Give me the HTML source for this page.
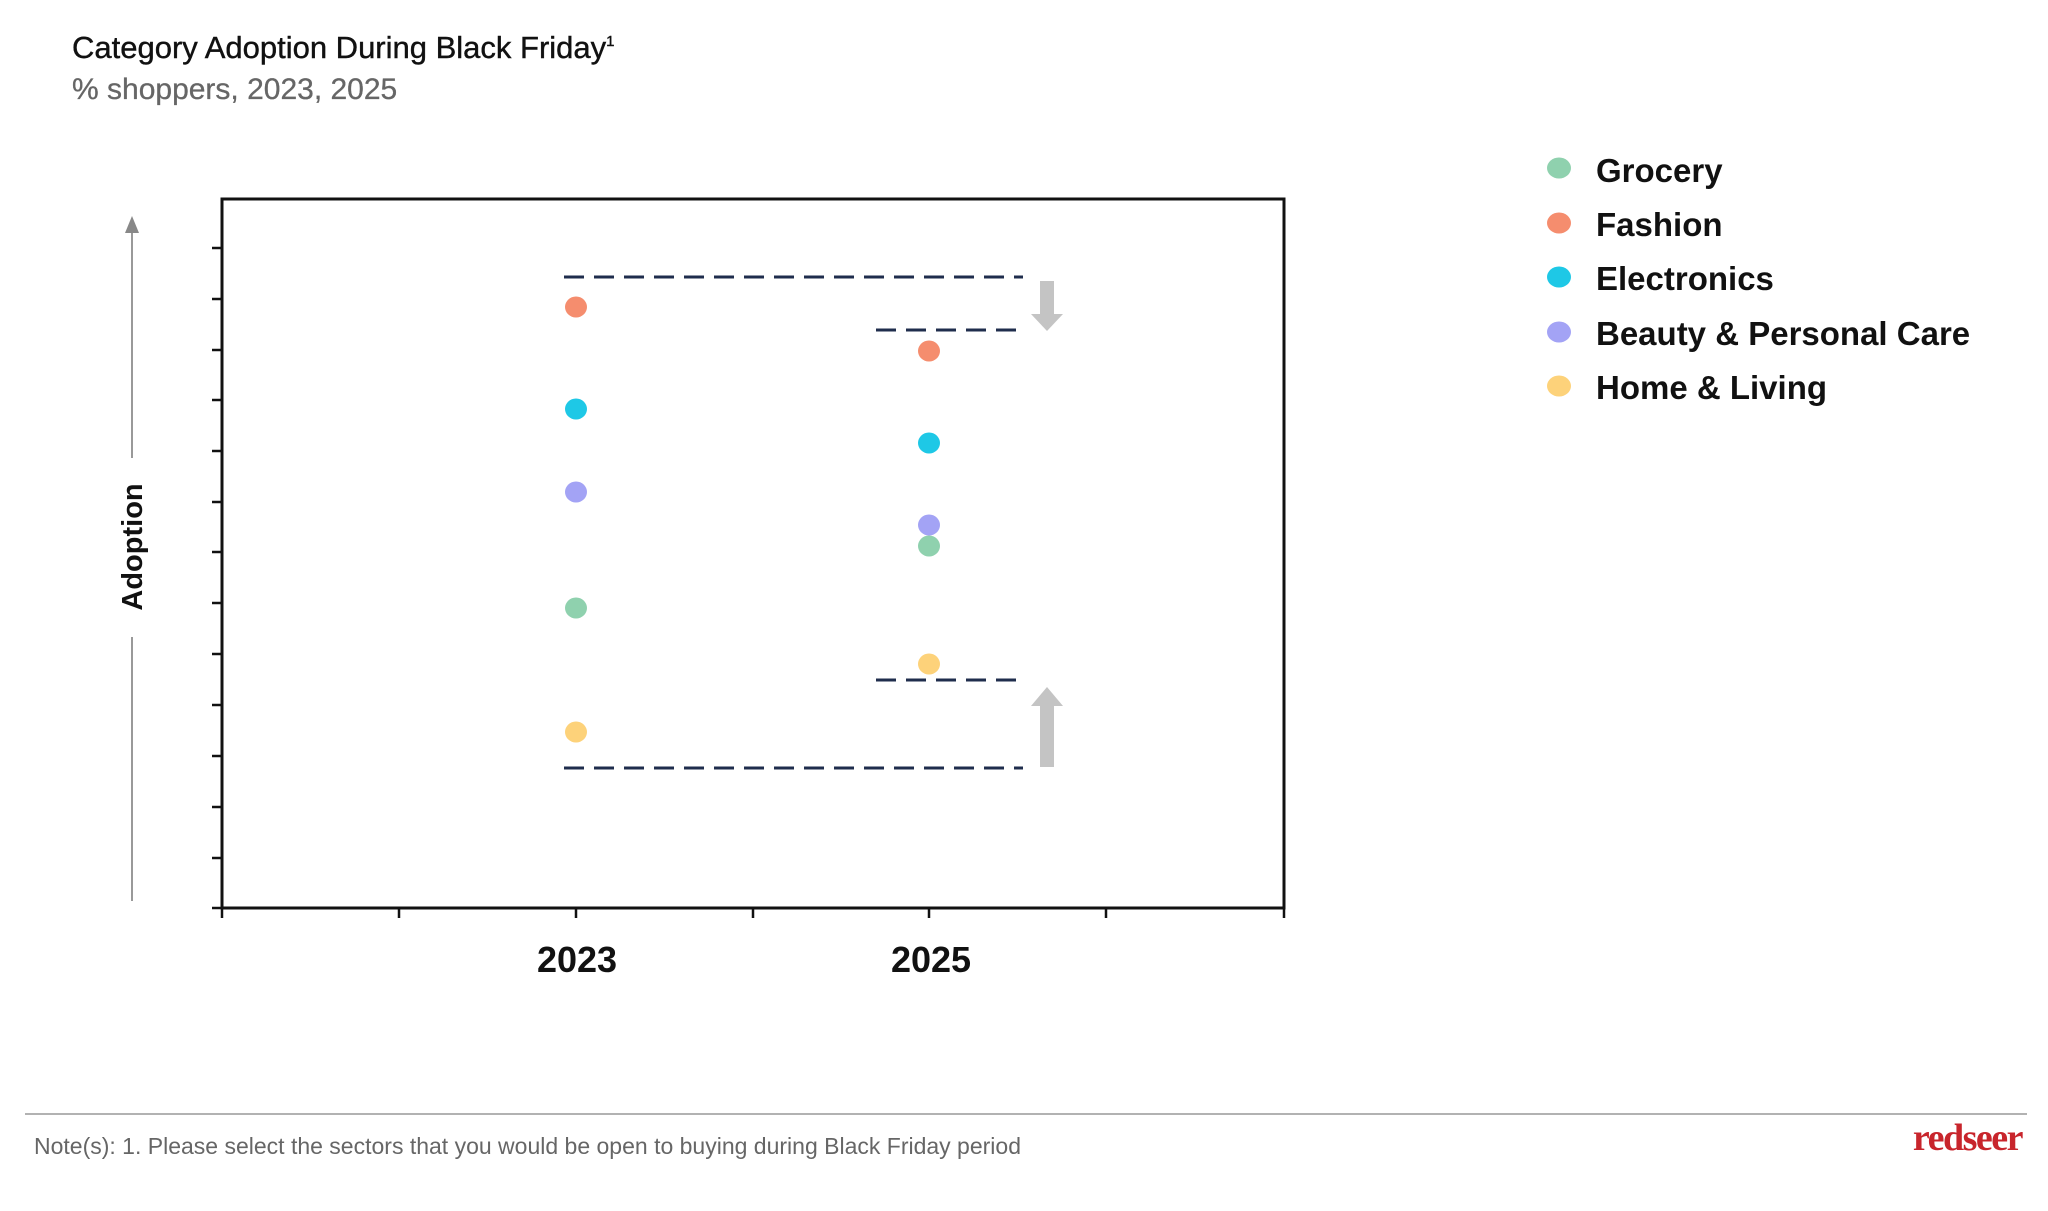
<!DOCTYPE html>
<html><head><meta charset="utf-8"><style>
html,body{margin:0;padding:0;background:#fff;}
body{width:2048px;height:1211px;overflow:hidden;position:relative;font-family:"Liberation Sans",sans-serif;}
</style></head><body>
<svg width="2048" height="1211" viewBox="0 0 2048 1211" xmlns="http://www.w3.org/2000/svg" style="position:absolute;left:0;top:0">
<text x="72" y="58" font-size="31" fill="#111" font-family="Liberation Sans, sans-serif" stroke="#111" stroke-width="0.4">Category Adoption During Black Friday<tspan font-size="15" dy="-12">1</tspan></text>
<text x="72" y="99" font-size="30" fill="#666" font-family="Liberation Sans, sans-serif" stroke="#666" stroke-width="0.3">% shoppers, 2023, 2025</text>

<!-- plot box -->
<rect x="222" y="199" width="1062" height="709" fill="none" stroke="#111" stroke-width="3"/>
<g stroke="#111" stroke-width="2.5">
<line x1="212" y1="248" x2="222" y2="248"/><line x1="212" y1="299" x2="222" y2="299"/>
<line x1="212" y1="350" x2="222" y2="350"/><line x1="212" y1="400" x2="222" y2="400"/>
<line x1="212" y1="451" x2="222" y2="451"/><line x1="212" y1="502" x2="222" y2="502"/>
<line x1="212" y1="552" x2="222" y2="552"/><line x1="212" y1="603" x2="222" y2="603"/>
<line x1="212" y1="654" x2="222" y2="654"/><line x1="212" y1="705" x2="222" y2="705"/>
<line x1="212" y1="756" x2="222" y2="756"/><line x1="212" y1="807" x2="222" y2="807"/>
<line x1="212" y1="858" x2="222" y2="858"/><line x1="212" y1="908" x2="222" y2="908"/>
<line x1="222" y1="908" x2="222" y2="918"/><line x1="399" y1="908" x2="399" y2="918"/>
<line x1="576" y1="908" x2="576" y2="918"/><line x1="753" y1="908" x2="753" y2="918"/>
<line x1="929" y1="908" x2="929" y2="918"/><line x1="1106" y1="908" x2="1106" y2="918"/>
<line x1="1284" y1="908" x2="1284" y2="918"/>
</g>
<text x="577" y="972" font-size="36" font-weight="bold" text-anchor="middle" fill="#111">2023</text>
<text x="931" y="972" font-size="36" font-weight="bold" text-anchor="middle" fill="#111">2025</text>

<!-- y axis arrow -->
<line x1="132" y1="901" x2="132" y2="637" stroke="#999" stroke-width="2"/>
<line x1="132" y1="458" x2="132" y2="228" stroke="#999" stroke-width="2"/>
<polygon points="132,216 125,233 139,233" fill="#888"/>
<text transform="translate(142,547) rotate(-90)" font-size="29" font-weight="bold" text-anchor="middle" fill="#111">Adoption</text>

<!-- dashed lines -->
<g stroke="#1f2d4d" stroke-width="3" stroke-dasharray="20,10">
<line x1="564" y1="277" x2="1023" y2="277"/>
<line x1="876" y1="330" x2="1023" y2="330"/>
<line x1="876" y1="680" x2="1023" y2="680"/>
<line x1="564" y1="768" x2="1023" y2="768"/>
</g>
<!-- gray arrows -->
<rect x="1040" y="281" width="14" height="35" fill="#c4c4c4"/>
<polygon points="1031,314 1063,314 1047,331" fill="#c4c4c4"/>
<rect x="1040" y="704" width="14" height="63" fill="#c4c4c4"/>
<polygon points="1031,706 1063,706 1047,687" fill="#c4c4c4"/>

<!-- dots -->
<g>
<ellipse cx="576" cy="307" rx="11" ry="10.5" fill="#f58d6e"/>
<ellipse cx="576" cy="409" rx="11" ry="10.5" fill="#1ec8e6"/>
<ellipse cx="576" cy="492" rx="11" ry="10.5" fill="#a3a3f5"/>
<ellipse cx="576" cy="608" rx="11" ry="10.5" fill="#8fd1ae"/>
<ellipse cx="576" cy="732" rx="11" ry="10.5" fill="#fdd27a"/>
<ellipse cx="929" cy="351" rx="11" ry="10.5" fill="#f58d6e"/>
<ellipse cx="929" cy="443" rx="11" ry="10.5" fill="#1ec8e6"/>
<ellipse cx="929" cy="546" rx="11" ry="10.5" fill="#8fd1ae"/>
<ellipse cx="929" cy="525" rx="11" ry="10.5" fill="#a3a3f5"/>
<ellipse cx="929" cy="664" rx="11" ry="10.5" fill="#fdd27a"/>
</g>

<!-- legend -->
<g font-size="33" font-weight="bold" fill="#111">
<ellipse cx="1559" cy="168" rx="12" ry="10.5" fill="#8fd1ae"/><text x="1596" y="182">Grocery</text>
<ellipse cx="1559" cy="223" rx="12" ry="10.5" fill="#f58d6e"/><text x="1596" y="236">Fashion</text>
<ellipse cx="1559" cy="277" rx="12" ry="10.5" fill="#1ec8e6"/><text x="1596" y="290">Electronics</text>
<ellipse cx="1559" cy="332" rx="12" ry="10.5" fill="#a3a3f5"/><text x="1596" y="345">Beauty &amp; Personal Care</text>
<ellipse cx="1559" cy="386" rx="12" ry="10.5" fill="#fdd27a"/><text x="1596" y="399">Home &amp; Living</text>
</g>

<!-- footer -->
<line x1="25" y1="1114" x2="2027" y2="1114" stroke="#999" stroke-width="1.5"/>
<text x="34" y="1154" font-size="23" fill="#666">Note(s): 1. Please select the sectors that you would be open to buying during Black Friday period</text>
<text x="2022" y="1150" font-size="38" font-weight="bold" fill="#c8252c" text-anchor="end" font-family="Liberation Serif, serif" letter-spacing="-1.5">redseer</text>
</svg>
</body></html>
